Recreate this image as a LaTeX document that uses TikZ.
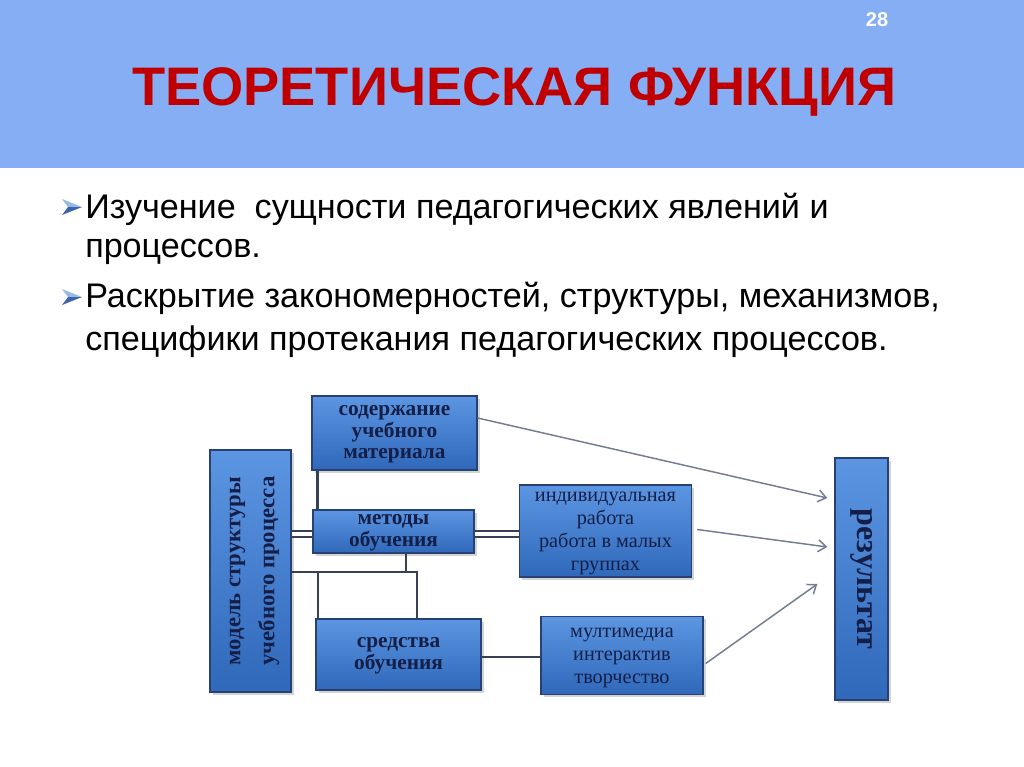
\documentclass[tikz,border=0pt]{standalone}
\usepackage{fontspec}
\setmainfont{Liberation Serif}
\newfontfamily\arial{Liberation Sans}
\usetikzlibrary{arrows.meta,shadows,calc}
\definecolor{band}{RGB}{134,174,245}
\definecolor{ttl}{RGB}{192,0,0}
\definecolor{navy}{RGB}{20,30,70}
\definecolor{boxtop}{RGB}{92,150,226}
\definecolor{boxbot}{RGB}{48,104,186}
\definecolor{boxline}{RGB}{40,65,115}
\definecolor{connc}{RGB}{55,65,85}
\definecolor{arrc}{RGB}{115,125,145}
\definecolor{bulL}{RGB}{150,185,230}
\definecolor{bulD}{RGB}{60,100,170}
\newcommand\bn[1]{\begin{tabular}{@{}c@{}}#1\end{tabular}}
\newcommand\bul[2]{%
  \fill[bulL] (#1-10,#2-8) -- (#1+10,#2) -- (#1-4,#2) -- cycle;
  \fill[bulD] (#1-10,#2+8) -- (#1+10,#2) -- (#1-4,#2) -- cycle;}
\begin{document}
\begin{tikzpicture}[x=0.75pt,y=-0.75pt,
  bx/.style={draw=boxline, line width=1pt, top color=boxtop, bottom color=boxbot,
    inner sep=0pt, text=navy,
    drop shadow={opacity=0.35, shadow xshift=2pt, shadow yshift=-2pt}},
  bxb/.style={bx, font=\bfseries\fontsize{16}{16.1}\selectfont},
  bxr/.style={bx, font=\fontsize{15.2}{17.3}\selectfont},
  conn/.style={draw=connc, line width=2.2pt},
  dbl/.style={draw=connc, line width=1.5pt, double=white, double distance=3pt},
  arw/.style={draw=arrc, line width=1.1pt, -{Straight Barb[length=6pt,width=9pt]}},
  body/.style={anchor=base west, inner sep=0pt, font=\arial\fontsize{25.6}{30}\selectfont},
]
\useasboundingbox (0,0) rectangle (1024,767);
\fill[band] (0,0) rectangle (1024,168);
\node[font=\arial\bfseries\fontsize{40.7}{48}\selectfont, text=ttl, anchor=base, inner sep=0pt] (title) at (514,105) {ТЕОРЕТИЧЕСКАЯ ФУНКЦИЯ};
\node[font=\arial\bfseries\fontsize{15}{18}\selectfont, text=white, anchor=base, inner sep=0pt] (pg) at (877,27) {28};

\bul{72}{207}
\bul{72}{297}
\node[body] (l1) at (85,218) {Изучение~ сущности педагогических явлений и};
\node[body] (l2) at (85,257) {процессов.};
\node[body] (l3) at (85,307) {Раскрытие закономерностей, структуры, механизмов,};
\node[body] (l4) at (85,350) {специфики протекания педагогических процессов.};

% boxes
\node[bx, font=\bfseries\fontsize{17}{25.5}\selectfont, minimum width=81*0.75pt, minimum height=242*0.75pt] (mod) at (250.5,571) {\rotatebox{90}{\bn{модель структуры\\учебного процесса}}};
\node[bxb, minimum width=165*0.75pt, minimum height=74*0.75pt] (sod) at (394.5,433) {\bn{содержание\\учебного\\материала}};
\node[bxb, minimum width=161*0.75pt, minimum height=43*0.75pt] (met) at (393.5,531.5) {\bn{методы\\обучения}};
\node[bxb, minimum width=165*0.75pt, minimum height=71*0.75pt] (sred) at (398.5,654.5) {\bn{средства\\обучения}};
\node[bxr, minimum width=172*0.75pt, minimum height=89*0.75pt] (ind) at (605.5,531) {\bn{индивидуальная\\работа\\работа в малых\\группах}};
\node[bxr, minimum width=162*0.75pt, minimum height=78*0.75pt] (mult) at (622,655.5) {\bn{мултимедиа\\интерактив\\творчество}};
\node[bx, font=\bfseries\fontsize{24}{28}\selectfont, minimum width=53*0.75pt, minimum height=242*0.75pt] (res) at (861.5,579) {\rotatebox{-90}{результат}};

% connectors
\draw[dbl] ($(mod.east|-met.west)+(0,2.5)$) -- ($(met.west)+(0,2.5)$);
\draw[dbl] ($(met.east)+(0,2.5)$) -- ($(met.east-|ind.west)+(0,2.5)$);
\draw[conn] ($(sod.south west)+(6,0)$) -- ($(met.north west)+(5,0)$);
\coordinate (hl) at (417,572);
\coordinate (vl) at (318,572);
\coordinate (mb) at ($(met.south)+(12.5,0)$);
\draw[conn] (mod.east|-hl) -- (hl) -- (hl|-sred.north);
\draw[conn] (mb) -- (mb|-hl);
\draw[conn] (vl) -- (vl|-sred.north);
\draw[conn] ($(sred.east)+(0,2.5)$) -- ($(sred.east-|mult.west)+(0,2.5)$);

\draw[arw] ($(sod.east)+(0,-15)$) -- ($(res.west)+(-7,-81)$);
\draw[arw] ($(ind.east)+(5,-1.5)$) -- ($(res.west)+(-7,-32)$);
\draw[arw] ($(mult.east)+(2,8)$) -- ($(res.west)+(-17,5)$);
\end{tikzpicture}
\end{document}
